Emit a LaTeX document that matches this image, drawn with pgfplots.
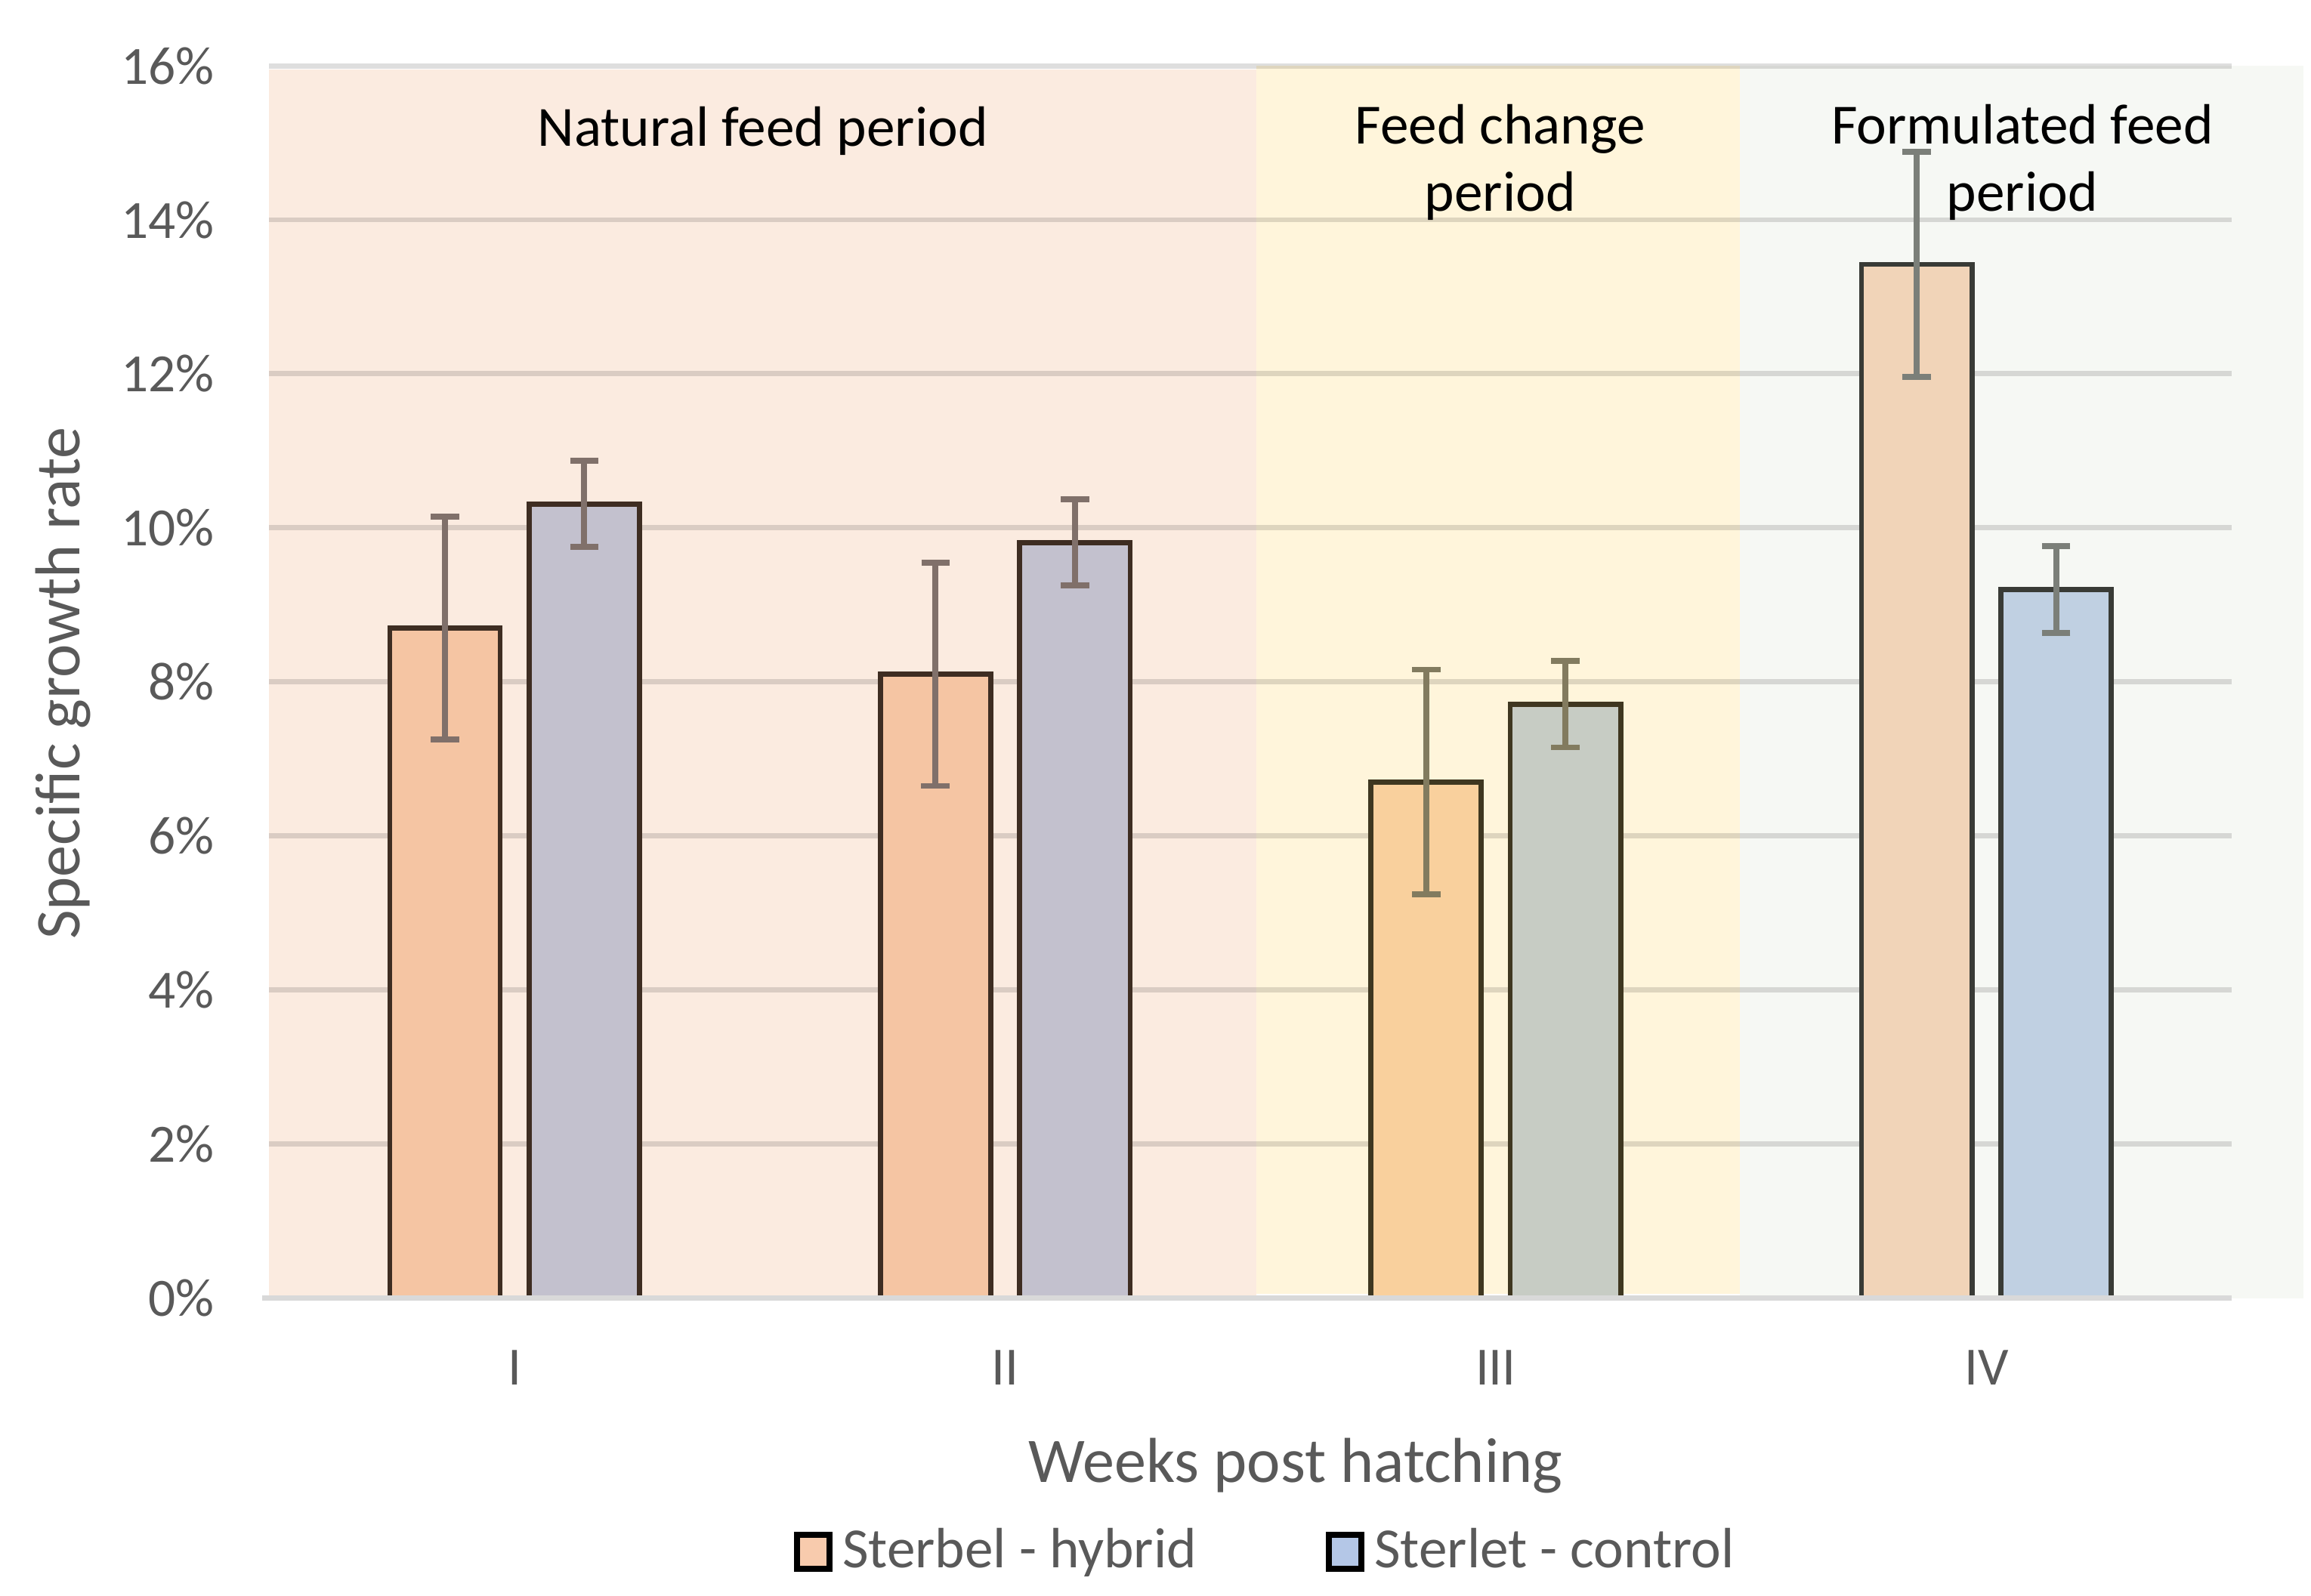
\documentclass[border=0pt]{standalone}
\usepackage{fontspec}
\setmainfont{Carlito}
\usepackage{pgfplots}
\pgfplotsset{compat=1.18}
\definecolor{bgpink}{HTML}{FBEBE0}
\definecolor{bgyel}{HTML}{FFF5DB}
\definecolor{bggrn}{HTML}{F6F8F4}
\definecolor{hA}{HTML}{F5C5A3}
\definecolor{cA}{HTML}{C3C1CE}
\definecolor{hB}{HTML}{F9D09D}
\definecolor{cB}{HTML}{C7CCC4}
\definecolor{hC}{HTML}{F1D4B8}
\definecolor{cC}{HTML}{C0D0E2}
\definecolor{eA}{HTML}{3E2D22}
\definecolor{eB}{HTML}{3F3720}
\definecolor{eC}{HTML}{393B36}
\definecolor{rA}{HTML}{80706A}
\definecolor{rB}{HTML}{827B5F}
\definecolor{rC}{HTML}{7B7F79}
\definecolor{txt}{HTML}{595959}
\definecolor{gridc}{HTML}{D9D9D9}
\definecolor{legH}{HTML}{F8CBAD}
\definecolor{legC}{HTML}{B4C7E7}
\pgfplotsset{
  barA/.style n args={3}{ybar, bar width=0.225, bar shift=0pt, fill=#1, draw=#2, line width=1pt,
    error bars/.cd, y dir=both, y explicit,
    error bar style={line width=1.2pt, color=#3},
    error mark options={rotate=90, mark size=2.85pt, line width=1.2pt, color=#3},
    /pgfplots/.cd},
}
\begin{document}
\begin{tikzpicture}
\begin{axis}[
  set layers=standard,
  scale only axis,
  width=393.6pt, height=247.2pt,
  xmin=-0.5, xmax=3.5, ymin=0, ymax=16,
  clip=false,
  axis line style={draw=none},
  major tick length=0pt,
  xtick={0,1,2,3}, xticklabels={I,II,III,IV},
  ytick={0,2,...,16},
  yticklabel={\pgfmathprintnumber{\tick}\%},
  /pgf/number format/assume math mode=true,
  ticklabel style={font=\fontsize{10.8pt}{13pt}\selectfont, text=txt},
  yticklabel style={xshift=-7.5pt},
  xticklabel style={yshift=-7pt},
  ymajorgrids,
  major grid style={color=black, opacity=0.13, line width=1.05pt},
  xlabel={Weeks post hatching},
  ylabel={Specific growth rate},
  every axis x label/.style={at={(axis description cs:0.523,-0.136)}, anchor=center,
    font=\fontsize{12.75pt}{15pt}\selectfont, text=txt},
  every axis y label/.style={at={(axis description cs:-0.1052,0.4988)}, anchor=center, rotate=90,
    font=\fontsize{12.75pt}{15pt}\selectfont, text=txt},
  legend columns=2,
  legend style={at={(axis description cs:0.5095,-0.206)}, anchor=center, draw=none, fill=none,
    font=\fontsize{11.4pt}{13pt}\selectfont, text=txt,
    /tikz/every even column/.append style={column sep=24pt}},
  legend cell align=left,
]
\begin{pgfonlayer}{axis background}
  \fill[bgpink] (axis cs:-0.5,0) rectangle (axis cs:1.512,15.95);
  \fill[bgyel] (axis cs:1.512,0.05) rectangle (axis cs:2.497,16);
  \fill[bggrn] (axis cs:2.497,0) rectangle (axis cs:3.646,16);
\end{pgfonlayer}
\path (axis cs:-1.0488,-3.806) rectangle (axis cs:3.6616,16.854);

% Sterbel - hybrid (bars placed at category - 0.142)
\addplot[forget plot, barA={hA}{eA}{rA}] coordinates {(-0.142,8.70) +- (0,1.45) (0.858,8.10) +- (0,1.45)};
\addplot[forget plot, barA={hB}{eB}{rB}] coordinates {(1.858,6.70) +- (0,1.46)};
\addplot[forget plot, barA={hC}{eC}{rC}] coordinates {(2.858,13.42) +- (0,1.46)};
% Sterlet - control (bars placed at category + 0.142)
\addplot[forget plot, barA={cA}{eA}{rA}] coordinates {(0.142,10.31) +- (0,0.56) (1.142,9.81) +- (0,0.56)};
\addplot[forget plot, barA={cB}{eB}{rB}] coordinates {(2.142,7.71) +- (0,0.56)};
\addplot[forget plot, barA={cC}{eC}{rC}] coordinates {(3.142,9.20) +- (0,0.56)};

\draw[gridc, line width=1.1pt] (axis cs:-0.515,0) -- (axis cs:3.5,0);

\addlegendimage{legend image code/.code={\draw[line width=1.2pt, draw=black, fill=legH] (0pt,-3.4pt) rectangle (6.5pt,3.4pt);}}
\addlegendentry{Sterbel - hybrid}
\addlegendimage{legend image code/.code={\draw[line width=1.2pt, draw=black, fill=legC] (0pt,-3.4pt) rectangle (6.5pt,3.4pt);}}
\addlegendentry{Sterlet - control}

\node[align=center, font=\fontsize{11.4pt}{13.5pt}\selectfont] at (axis cs:0.506,15.15) {Natural feed period};
\node[align=center, font=\fontsize{11.4pt}{13.5pt}\selectfont] at (axis cs:2.009,14.75) {Feed change\\period};
\node[align=center, font=\fontsize{11.4pt}{13.5pt}\selectfont] at (axis cs:3.073,14.75) {Formulated feed\\period};
\end{axis}
\end{tikzpicture}
\end{document}
